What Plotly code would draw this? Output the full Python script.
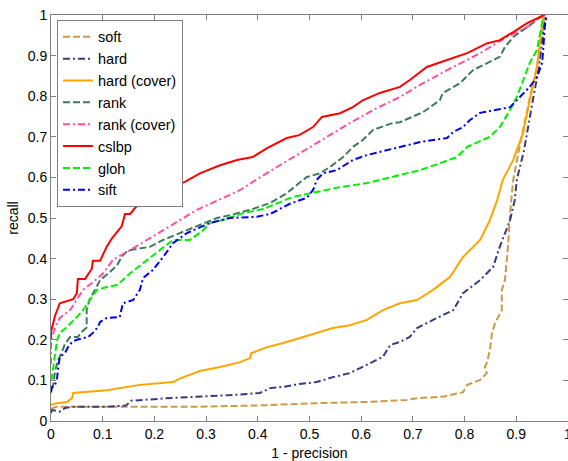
import plotly.graph_objects as go

# ---------------- data ----------------
soft_x = [0, 0.01, 0.288, 0.418, 0.514, 0.611, 0.689, 0.708, 0.758, 0.797, 0.805, 0.83, 0.843, 0.839,
          0.843, 0.849, 0.853, 0.859, 0.872, 0.872, 0.878, 0.884, 0.888, 0.894, 0.905, 0.925, 0.94, 0.95, 0.955]
soft_y = [0.03, 0.035, 0.035, 0.039, 0.044, 0.047, 0.052, 0.056, 0.06, 0.071, 0.089, 0.101, 0.118, 0.133,
          0.143, 0.175, 0.217, 0.241, 0.273, 0.323, 0.347, 0.429, 0.512, 0.594, 0.667, 0.79, 0.872, 0.956, 1.0]

hard_x = [0, 0.002, 0.017, 0.027, 0.043, 0.108, 0.145, 0.155, 0.236, 0.302, 0.352, 0.404, 0.424, 0.449,
          0.48, 0.514, 0.545, 0.578, 0.603, 0.623, 0.642, 0.656, 0.675, 0.694, 0.708, 0.739, 0.778, 0.797,
          0.83, 0.855, 0.868, 0.888, 0.897, 0.901, 0.915, 0.932, 0.944, 0.952, 0.957]
hard_y = [0.02, 0.027, 0.023, 0.032, 0.035, 0.035, 0.038, 0.05, 0.057, 0.06, 0.064, 0.069, 0.081, 0.084,
          0.091, 0.096, 0.108, 0.118, 0.133, 0.145, 0.158, 0.187, 0.195, 0.207, 0.229, 0.249, 0.273, 0.315,
          0.347, 0.379, 0.429, 0.495, 0.544, 0.594, 0.667, 0.79, 0.872, 0.956, 1.0]

hardc_x = [0, 0.012, 0.031, 0.041, 0.043, 0.062, 0.108, 0.172, 0.236, 0.25, 0.288, 0.327, 0.366, 0.385,
           0.387, 0.418, 0.449, 0.48, 0.514, 0.545, 0.578, 0.611, 0.642, 0.675, 0.708, 0.739, 0.772, 0.797,
           0.83, 0.849, 0.863, 0.874, 0.894, 0.913, 0.926, 0.94, 0.946, 0.952]
hardc_y = [0.04, 0.044, 0.047, 0.057, 0.069, 0.071, 0.076, 0.089, 0.096, 0.105, 0.123, 0.133, 0.145, 0.155,
           0.167, 0.182, 0.192, 0.204, 0.217, 0.229, 0.236, 0.249, 0.273, 0.29, 0.298, 0.323, 0.355, 0.404,
           0.446, 0.495, 0.544, 0.594, 0.643, 0.709, 0.79, 0.872, 0.938, 0.995]

rank_x = [0, 0.004, 0.008, 0.014, 0.021, 0.027, 0.037, 0.052, 0.06, 0.069, 0.069, 0.075, 0.085, 0.095,
          0.114, 0.128, 0.137, 0.147, 0.153, 0.191, 0.217, 0.25, 0.282, 0.321, 0.346, 0.385, 0.424, 0.456,
          0.48, 0.495, 0.52, 0.54, 0.565, 0.584, 0.603, 0.623, 0.661, 0.675, 0.72, 0.752, 0.758, 0.791,
          0.816, 0.843, 0.868, 0.878, 0.894, 0.921, 0.952]
rank_y = [0.08, 0.085, 0.125, 0.15, 0.17, 0.19, 0.207, 0.207, 0.22, 0.23, 0.273, 0.3, 0.323, 0.347,
          0.367, 0.384, 0.405, 0.418, 0.421, 0.429, 0.446, 0.463, 0.478, 0.5, 0.507, 0.52, 0.537, 0.561,
          0.586, 0.601, 0.61, 0.626, 0.65, 0.675, 0.692, 0.717, 0.734, 0.736, 0.761, 0.79, 0.808, 0.832,
          0.864, 0.882, 0.897, 0.921, 0.946, 0.97, 1.0]

rankc_x = [0, 0, 0.008, 0.017, 0.037, 0.05, 0.062, 0.081, 0.101, 0.12, 0.139, 0.153, 0.217, 0.282, 0.346,
           0.366, 0.404, 0.468, 0.514, 0.565, 0.623, 0.675, 0.714, 0.766, 0.83, 0.882, 0.921, 0.952]
rankc_y = [0.14, 0.2, 0.23, 0.254, 0.273, 0.298, 0.323, 0.342, 0.364, 0.397, 0.41, 0.421, 0.47, 0.52, 0.557,
           0.569, 0.6, 0.65, 0.685, 0.724, 0.766, 0.798, 0.828, 0.864, 0.906, 0.946, 0.97, 1.0]

cslbp_x = [0, 0, 0.008, 0.017, 0.043, 0.05, 0.052, 0.066, 0.079, 0.081, 0.095, 0.108, 0.118, 0.128, 0.137,
           0.143, 0.153, 0.166, 0.2, 0.23, 0.259, 0.288, 0.327, 0.36, 0.39, 0.418, 0.456, 0.48, 0.507, 0.524,
           0.559, 0.584, 0.603, 0.636, 0.675, 0.694, 0.727, 0.766, 0.805, 0.843, 0.868, 0.894, 0.921, 0.946, 0.955]
cslbp_y = [0.2, 0.22, 0.26, 0.29, 0.3, 0.315, 0.35, 0.35, 0.375, 0.395, 0.395, 0.43, 0.45, 0.465, 0.48,
           0.51, 0.51, 0.53, 0.56, 0.575, 0.589, 0.61, 0.63, 0.643, 0.65, 0.672, 0.697, 0.704, 0.724, 0.749,
           0.758, 0.773, 0.79, 0.808, 0.823, 0.84, 0.872, 0.889, 0.906, 0.93, 0.938, 0.958, 0.98, 0.995, 1.0]

gloh_x = [0, 0.002, 0.008, 0.012, 0.017, 0.031, 0.05, 0.062, 0.075, 0.089, 0.108, 0.128, 0.153, 0.186,
          0.211, 0.236, 0.269, 0.294, 0.308, 0.333, 0.371, 0.41, 0.468, 0.514, 0.559, 0.611, 0.65, 0.689,
          0.714, 0.752, 0.785, 0.805, 0.849, 0.868, 0.888, 0.901, 0.913, 0.926, 0.94, 0.946, 0.952]
gloh_y = [0.1, 0.108, 0.167, 0.2, 0.217, 0.232, 0.256, 0.273, 0.298, 0.323, 0.33, 0.335, 0.364, 0.397,
          0.421, 0.446, 0.446, 0.47, 0.488, 0.495, 0.512, 0.522, 0.552, 0.564, 0.576, 0.586, 0.598, 0.61,
          0.618, 0.635, 0.65, 0.675, 0.7, 0.724, 0.766, 0.798, 0.84, 0.882, 0.914, 0.956, 0.995]

sift_x = [0, 0.002, 0.008, 0.012, 0.014, 0.017, 0.027, 0.033, 0.041, 0.05, 0.062, 0.072, 0.081, 0.091,
          0.095, 0.108, 0.133, 0.137, 0.139, 0.159, 0.172, 0.178, 0.197, 0.217, 0.236, 0.263, 0.288, 0.308,
          0.346, 0.398, 0.424, 0.462, 0.495, 0.507, 0.514, 0.526, 0.553, 0.584, 0.611, 0.642, 0.675, 0.714,
          0.766, 0.778, 0.797, 0.81, 0.83, 0.863, 0.888, 0.907, 0.926, 0.94, 0.95, 0.952, 0.955, 0.959]
sift_y = [0.07, 0.084, 0.089, 0.108, 0.133, 0.158, 0.167, 0.182, 0.195, 0.2, 0.204, 0.207, 0.217, 0.232,
          0.244, 0.254, 0.256, 0.278, 0.29, 0.298, 0.323, 0.352, 0.372, 0.404, 0.438, 0.463, 0.478, 0.488,
          0.5, 0.503, 0.51, 0.535, 0.55, 0.569, 0.594, 0.61, 0.618, 0.643, 0.655, 0.665, 0.675, 0.687,
          0.697, 0.712, 0.724, 0.741, 0.759, 0.766, 0.773, 0.798, 0.823, 0.847, 0.882, 0.914, 0.97, 1.0]

DASH = "7px,3px"
DASHDOT = "7px,3px,2px,3px"

series = [
    ("soft", soft_x, soft_y, "#cc9a45", DASH),
    ("hard", hard_x, hard_y, "#3a3a7c", DASHDOT),
    ("hard (cover)", hardc_x, hardc_y, "#ffa500", "solid"),
    ("rank", rank_x, rank_y, "#3f7a5a", DASH),
    ("rank (cover)", rankc_x, rankc_y, "#ff4fa0", DASHDOT),
    ("cslbp", cslbp_x, cslbp_y, "#ff0000", "solid"),
    ("gloh", gloh_x, gloh_y, "#00f000", DASH),
    ("sift", sift_x, sift_y, "#0000f0", DASHDOT),
]

ticks = [0, 0.1, 0.2, 0.3, 0.4, 0.5, 0.6, 0.7, 0.8, 0.9, 1]
tick_text = ["0", "0.1", "0.2", "0.3", "0.4", "0.5", "0.6", "0.7", "0.8", "0.9", "1"]

fig = go.Figure()
for name, xs, ys, color, dash in series:
    fig.add_trace(go.Scatter(x=xs, y=ys, mode="lines", name=name,
                             line=dict(color=color, width=2, dash=dash)))

axis_common = dict(
    showgrid=False, zeroline=False, showline=True, linecolor="#808080", linewidth=1,
    mirror="ticks", ticks="inside", ticklen=5, tickcolor="#808080",
    tickvals=ticks, ticktext=tick_text, ticklabeloverflow="allow",
    tickfont=dict(family="Liberation Sans", size=14, color="black"),
)

fig.update_layout(
    width=568, height=461,
    margin=dict(l=51, r=0, t=15, b=40, autoexpand=False),
    paper_bgcolor="white", plot_bgcolor="white",
    font=dict(family="Liberation Sans", color="black"),
    xaxis=dict(range=[0, 1], title=dict(text="1 - precision", font=dict(size=14), standoff=8), **axis_common),
    yaxis=dict(range=[0, 1], title=dict(text="recall", font=dict(size=14), standoff=5), **axis_common),
    legend=dict(x=0.0116, y=0.988, xanchor="left", yanchor="top",
                bgcolor="white", bordercolor="#808080", borderwidth=1,
                font=dict(family="Liberation Sans", size=14.5, color="black"),
                tracegroupgap=0),
    showlegend=True,
)

fig.write_html("out.html", config={"displayModeBar": False},
               post_script="document.body.style.margin='0';document.body.style.overflow='hidden';")
